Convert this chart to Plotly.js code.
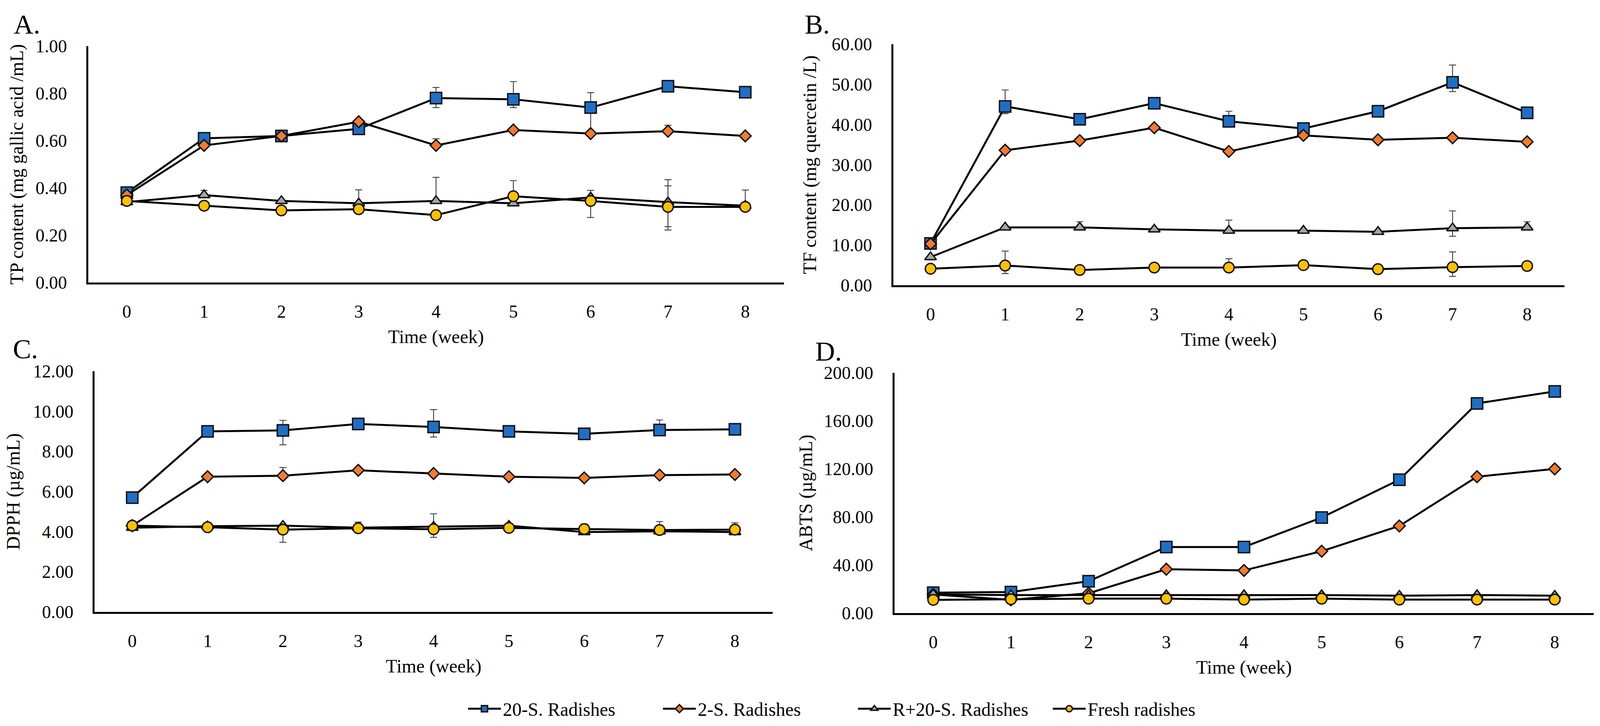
<!DOCTYPE html>
<html>
<head>
<meta charset="utf-8">
<script src="https://cdn.plot.ly/plotly-3.0.1.min.js"></script>
<style>html,body{margin:0;padding:0;background:#fff;overflow:hidden;}#chart{width:100vw;height:100vh;}</style>
</head>
<body>
<div id="chart"></div>
<script>
// ---------- data ----------
const weeks = [0, 1, 2, 3, 4, 5, 6, 7, 8];
const seriesNames = ['20-S. Radishes', '2-S. Radishes', 'R+20-S. Radishes', 'Fresh radishes'];
const panelLabels = ['A.', 'B.', 'C.', 'D.'];
const yTitles = ['TP content (mg gallic acid /mL)', 'TF content (mg quercetin /L)', 'DPPH (µg/mL)', 'ABTS (µg/mL)'];
const xTitle = 'Time (week)';

// A. TP content
const tpBlue   = [0.38, 0.61, 0.62, 0.65, 0.78, 0.775, 0.74, 0.83, 0.805];
const tpOrange = [0.37, 0.58, 0.62, 0.68, 0.58, 0.645, 0.63, 0.64, 0.62];
const tpGray   = [0.34, 0.37, 0.345, 0.335, 0.345, 0.335, 0.36, 0.34, 0.325];
const tpYellow = [0.345, 0.325, 0.305, 0.31, 0.285, 0.365, 0.345, 0.32, 0.32];
const tpBlueErrP   = [null, null, null, null, 0.045, 0.075, 0.063, null, null];
const tpBlueErrM   = [null, null, null, null, 0.04, 0.035, 0.107, null, null];
const tpOrangeErrP = [null, null, null, 0.01, 0.028, null, null, 0.025, null];
const tpOrangeErrM = [null, null, null, null, null, null, null, null, null];
const tpGrayErrP   = [null, 0.02, null, 0.057, 0.1, null, 0.03, 0.095, 0.066];
const tpGrayErrM   = [null, null, null, null, null, null, null, 0.118, null];
const tpYellowErrP = [null, null, null, null, null, 0.066, null, 0.089, null];
const tpYellowErrM = [null, null, null, null, null, null, 0.07, 0.084, null];

// B. TF content
const tfBlue   = [10.4, 44.5, 41.3, 45.3, 40.8, 39.0, 43.3, 50.5, 42.9];
const tfOrange = [10.3, 33.6, 36.0, 39.2, 33.3, 37.3, 36.2, 36.7, 35.7];
const tfGray   = [7.0, 14.4, 14.4, 13.9, 13.6, 13.6, 13.3, 14.2, 14.4];
const tfYellow = [4.1, 4.9, 3.8, 4.4, 4.4, 5.0, 4.0, 4.5, 4.8];
const tfBlueErrP   = [null, 4.1, null, null, 2.5, null, null, 4.3, null];
const tfBlueErrM   = [null, 1.8, null, null, null, null, null, 2.3, null];
const tfOrangeErrP = [null, null, null, null, null, null, null, null, null];
const tfOrangeErrM = [null, null, null, null, null, null, null, null, null];
const tfGrayErrP   = [null, null, 1.4, null, 2.6, null, null, 4.3, 1.4];
const tfGrayErrM   = [null, null, null, null, null, null, null, 2.0, null];
const tfYellowErrP = [null, 3.6, null, null, 2.2, null, null, 3.8, null];
const tfYellowErrM = [null, 2.0, null, null, null, null, null, 2.3, null];

// C. DPPH
const dpBlue   = [5.7, 9.0, 9.05, 9.37, 9.22, 9.0, 8.88, 9.07, 9.1];
const dpOrange = [4.3, 6.74, 6.79, 7.06, 6.9, 6.74, 6.68, 6.82, 6.85];
const dpGray   = [4.2, 4.27, 4.3, 4.2, 4.25, 4.3, 3.98, 4.02, 3.98];
const dpYellow = [4.3, 4.22, 4.1, 4.17, 4.12, 4.19, 4.13, 4.08, 4.1];
const dpBlueErrP   = [null, null, 0.5, 0.1, 0.87, null, null, 0.5, null];
const dpBlueErrM   = [null, null, 0.72, null, 0.5, null, null, null, null];
const dpOrangeErrP = [null, null, 0.41, null, null, null, null, null, null];
const dpOrangeErrM = [null, null, null, null, null, null, null, null, null];
const dpGrayErrP   = [null, null, null, 0.28, 0.64, 0.12, null, null, null];
const dpGrayErrM   = [null, null, null, null, 0.53, null, null, null, null];
const dpYellowErrP = [null, null, null, null, null, null, 0.25, 0.42, 0.34];
const dpYellowErrM = [null, null, 0.63, null, null, null, null, null, null];

// D. ABTS
const abBlue   = [17, 17.5, 26.5, 55, 55, 79.5, 111, 174.5, 184.5];
const abOrange = [15.5, 11, 16.5, 36.5, 35.5, 51.5, 72.5, 113.5, 120];
const abGray   = [15.5, 15, 15, 15, 15, 15, 14.5, 15, 14.5];
const abYellow = [11, 11.5, 12, 12, 11.2, 12, 11.2, 11.2, 11.2];

// ---------- styles ----------
const seriesColors  = ['#1F6FC6', '#F37B2B', '#A5A5A5', '#FFC000'];
const seriesSymbols = ['square', 'diamond', 'triangle-up', 'circle'];
const seriesSizes   = [29, 23, 26, 27];
const FONT = 'Liberation Serif, Times New Roman, serif';

// reference frame used for placing the panels (fractions of it)
const RW = 4229, RH = 1858;
const W = window.innerWidth || RW, H = window.innerHeight || RH;

const panels = [
  {ax: '', vals: [tpBlue, tpOrange, tpGray, tpYellow],
   errP: [tpBlueErrP, tpOrangeErrP, tpGrayErrP, tpYellowErrP],
   errM: [tpBlueErrM, tpOrangeErrM, tpGrayErrM, tpYellowErrM],
   yrange: [0, 1], dtick: 0.2, xd: [233, 2072], yd: [118, 723], titleStand: 18},
  {ax: '2', vals: [tfBlue, tfOrange, tfGray, tfYellow],
   errP: [tfBlueErrP, tfOrangeErrP, tfGrayErrP, tfYellowErrP],
   errM: [tfBlueErrM, tfOrangeErrM, tfGrayErrM, tfYellowErrM],
   yrange: [0, 60], dtick: 10, xd: [2361, 4135], yd: [113, 730], titleStand: 26},
  {ax: '3', vals: [dpBlue, dpOrange, dpGray, dpYellow],
   errP: [dpBlueErrP, dpOrangeErrP, dpGrayErrP, dpYellowErrP],
   errM: [dpBlueErrM, dpOrangeErrM, dpGrayErrM, dpYellowErrM],
   yrange: [0, 12], dtick: 2, xd: [250, 2042], yd: [950, 1566], titleStand: 20},
  {ax: '4', vals: [abBlue, abOrange, abGray, abYellow],
   errP: null, errM: null,
   yrange: [0, 200], dtick: 40, xd: [2364, 4212], yd: [954, 1569], titleStand: 16}
];

const toNaN = a => a.map(v => (v == null ? NaN : v));

const traces = [];
const layout = {
  width: W, height: H,
  margin: {l: 0, r: 0, t: 0, b: 0, autoexpand: false},
  paper_bgcolor: '#ffffff', plot_bgcolor: '#ffffff',
  font: {family: FONT, color: '#000000', size: 46},
  showlegend: true,
  legend: {orientation: 'h', x: 1232 / RW, xanchor: 'left', y: 1 - 1814 / RH, yanchor: 'middle',
           font: {family: FONT, size: 48, color: '#000'}, itemwidth: 84,
           entrywidth: 400, entrywidthmode: 'pixels', traceorder: 'normal'},
  annotations: []
};

panels.forEach((p, pi) => {
  const xa = 'x' + p.ax, ya = 'y' + p.ax;
  p.vals.forEach((vals, si) => {
    const t = {
      type: 'scatter', mode: 'lines+markers',
      x: weeks, y: vals, xaxis: xa, yaxis: ya,
      name: seriesNames[si], legendgroup: seriesNames[si], showlegend: pi === 0,
      line: {color: '#000000', width: 5},
      marker: {symbol: seriesSymbols[si], size: seriesSizes[si], color: seriesColors[si],
               line: {color: '#111111', width: 3.5}},
      cliponaxis: false
    };
    if (p.errP) {
      t.error_y = {type: 'data', symmetric: false, array: toNaN(p.errP[si]), arrayminus: toNaN(p.errM[si]),
                   color: '#3a3a3a', thickness: 2.2, width: 9};
    }
    traces.push(t);
  });
  const xkey = 'xaxis' + p.ax, ykey = 'yaxis' + p.ax;
  layout[xkey] = {
    domain: [p.xd[0] / RW, p.xd[1] / RW], anchor: ya,
    range: [-0.5, 8.5], tickmode: 'array', tickvals: weeks, ticktext: weeks.map(String),
    showgrid: false, zeroline: false, showline: true, linecolor: '#000', linewidth: 5,
    ticks: '', ticklabelstandoff: 30, ticklabeloverflow: 'allow',
    tickfont: {family: FONT, size: 46, color: '#000'},
    title: {text: xTitle, font: {family: FONT, size: 48, color: '#000'}, standoff: 24},
    automargin: false, fixedrange: true
  };
  layout[ykey] = {
    domain: [1 - p.yd[1] / RH, 1 - p.yd[0] / RH], anchor: xa,
    range: p.yrange, dtick: p.dtick, tick0: 0, tickformat: '.2f',
    showgrid: false, zeroline: false, showline: true, linecolor: '#000', linewidth: 5,
    ticks: '', ticklabelstandoff: 40, ticklabeloverflow: 'allow',
    tickfont: {family: FONT, size: 46, color: '#000'},
    title: {text: yTitles[pi], font: {family: FONT, size: 48, color: '#000'}, standoff: p.titleStand},
    automargin: false, fixedrange: true
  };
});

// panel letters
const letterPos = [[34, 63], [2125, 63], [32, 893], [2153, 899]];
panelLabels.forEach((lab, i) => {
  layout.annotations.push({
    text: lab, xref: 'paper', yref: 'paper',
    x: letterPos[i][0] / RW, y: 1 - letterPos[i][1] / RH,
    xanchor: 'left', yanchor: 'middle', showarrow: false,
    font: {family: FONT, size: 70, color: '#000'}
  });
});

Plotly.newPlot('chart', traces, layout, {staticPlot: true, displayModeBar: false});
</script>
</body>
</html>
